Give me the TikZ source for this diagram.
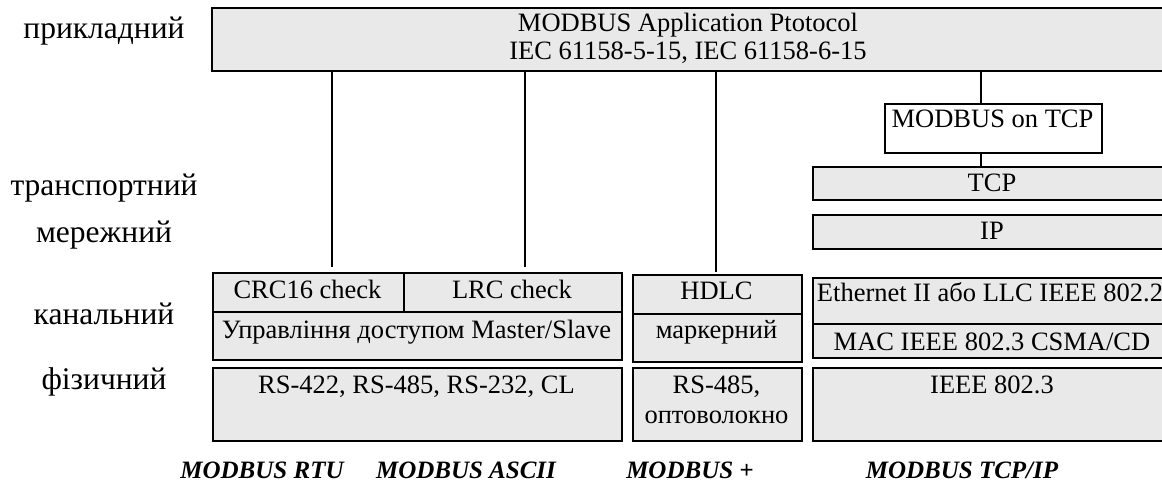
\documentclass[tikz,border=0pt]{standalone}
\usepackage{fontspec}
\setmainfont{Liberation Serif}
\definecolor{boxgray}{RGB}{233,233,233}
\tikzset{
  box/.style={draw, line width=1.6pt, fill=boxgray, inner sep=0pt, anchor=north west},
  wbox/.style={box, fill=white},
  txt/.style={inner sep=0pt, anchor=base, font=\fontsize{26.5}{28}\selectfont},
  lbl/.style={inner sep=0pt, anchor=base, font=\fontsize{31.5}{36}\selectfont},
  proto/.style={inner sep=0pt, anchor=base, font=\fontsize{25}{28}\selectfont\bfseries\itshape},
  conn/.style={line width=1.6pt},
}
\newcommand{\mkbox}[6][box]{\node[#1, minimum width=#5pt-#3pt, minimum height=#6pt-#4pt] (#2) at (#3,#4) {};}
\begin{document}
\begin{tikzpicture}[x=1pt,y=-1pt]
\useasboundingbox (0,0) rectangle (1162,486);
\clip (0,0) rectangle (1162,486);
% boxes
\mkbox{top}{211}{7}{1165}{70}
\mkbox[wbox]{mtcp}{884}{103}{1101}{152}
\mkbox{tcp}{812}{166}{1172}{199}
\mkbox{ip}{812}{214}{1172}{248}
\mkbox{crc}{212}{272}{403}{311}
\mkbox{lrc}{403}{272}{621}{311}
\mkbox{mgmt}{212}{311}{621}{359}
\mkbox{rsa}{212}{367}{621}{440}
\mkbox{hdlc}{632}{274}{801}{313}
\mkbox{mark}{632}{313}{801}{361}
\mkbox{rsb}{632}{367}{801}{440}
\mkbox{eth}{812}{277}{1172}{323}
\mkbox{mac}{812}{323}{1172}{357}
\mkbox{ieee}{812}{367}{1172}{440}
% box texts
\node[txt] (t1) at (688,32) {MODBUS Application Ptotocol};
\node[txt] (t2) at (688,60) {IEC 61158-5-15, IEC 61158-6-15};
\node[txt] (tmtcp) at (992.5,128) {MODBUS on TCP};
\node[txt] (ttcp) at (992,192) {TCP};
\node[txt] (tip) at (992,240) {IP};
\node[txt] (tcrc) at (307.5,299) {CRC16 check};
\node[txt] (tlrc) at (512,299) {LRC check};
\node[txt] (tmgmt) at (416.5,338) {Управління доступом Master/Slave};
\node[txt] (trsa) at (416.5,393) {RS-422, RS-485, RS-232, CL};
\node[txt] (thdlc) at (716.5,300) {HDLC};
\node[txt] (tmark) at (716.5,338) {маркерний};
\node[txt] (trsb1) at (716.5,393) {RS-485,};
\node[txt] (trsb2) at (716.5,423) {оптоволокно};
\node[txt] (teth) at (990,302) {Ethernet II або LLC IEEE 802.2};
\node[txt] (tmac) at (992,350) {MAC IEEE 802.3 CSMA/CD};
\node[txt] (tieee) at (992,393) {IEEE 802.3};
% layer labels
\node[lbl] (l1) at (104,39) {прикладний};
\node[lbl] (l2) at (104,196) {транспортний};
\node[lbl] (l3) at (104,243) {мережний};
\node[lbl] (l4) at (104,324) {канальний};
\node[lbl] (l5) at (104,389) {фізичний};
% protocol names
\node[proto] (p1) at (262,478) {MODBUS RTU};
\node[proto] (p2) at (466,478) {MODBUS ASCII};
\node[proto] (p3) at (690,478) {MODBUS +};
\node[proto] (p4) at (962,478) {MODBUS TCP/IP};
% connectors
\coordinate (e1) at (332,267);
\coordinate (e2) at (525,267);
\coordinate (e3) at (716,272);
\coordinate (e4) at (981,103);
\draw[conn] (top.south -| e1) -- (e1);
\draw[conn] (top.south -| e2) -- (e2);
\draw[conn] (top.south -| e3) -- (e3);
\draw[conn] (top.south -| e4) -- (mtcp.north -| e4);
\draw[conn] (mtcp.south -| e4) -- (tcp.north -| e4);
\end{tikzpicture}
\end{document}
